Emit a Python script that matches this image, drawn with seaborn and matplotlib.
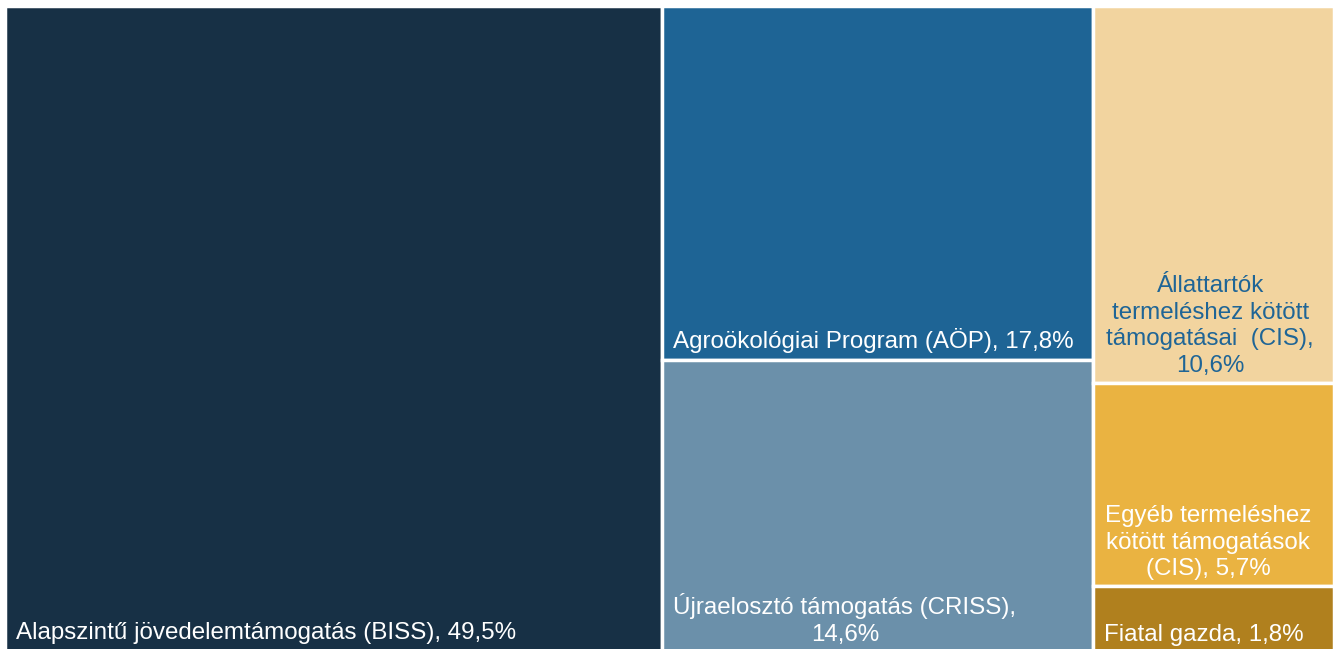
import matplotlib
matplotlib.use("Agg")
import matplotlib.pyplot as plt
import seaborn as sns
import numpy as np

# Data
labels = [
    "Alapszintű jövedelemtámogatás (BISS), 49,5%",
    "Agroökológiai Program (AÖP), 17,8%",
    "Újraelosztó támogatás (CRISS),\n14,6%",
    "Állattartók\ntermeléshez kötött\ntámogatásai  (CIS),\n10,6%",
    "Egyéb termeléshez\nkötött támogatások\n(CIS), 5,7%",
    "Fiatal gazda, 1,8%",
]
values = [49.5, 17.8, 14.6, 10.6, 5.7, 1.8]
groups = [0, 1, 1, 2, 2, 2]
colors = ["#173045", "#1E6495", "#6B90AA", "#F2D49F", "#EAB341", "#B0801E"]
text_colors = ["white", "white", "white", "#1F6596", "white", "white"]

sns.set_theme(style="white")
plt.rcParams["font.family"] = ["Liberation Sans", "DejaVu Sans"]

fig = plt.figure(figsize=(13.33, 6.49), dpi=100)
W, H = 1333, 649
ax = fig.add_axes([4.5 / W, -1.5 / H, 1329.0 / W, 645.0 / H])

# slice-and-dice layout: columns by group, stacked top-down within column
total = sum(values)
rects = []
x0 = 0.0
for g in sorted(set(groups)):
    idx = [i for i in range(len(values)) if groups[i] == g]
    gsum = sum(values[i] for i in idx)
    w = gsum / total
    top = 1.0
    for i in idx:
        h = values[i] / gsum
        rects.append((i, x0, top - h, w, h))
        top -= h
    x0 += w

for i, x, y, w, h in rects:
    ax.bar(x, h, width=w, bottom=y, align="edge", color=colors[i],
           edgecolor="white", linewidth=2.5)

ax.set_xlim(0, 1)
ax.set_ylim(0, 1)
ax.axis("off")

fs = 17.4
ls = 1.28
r = {i: (x, y, w, h) for i, x, y, w, h in rects}
# BISS: bottom-left
x, y, w, h = r[0]
ax.annotate(labels[0], xy=(x, y), xytext=(11, 6), textcoords="offset pixels",
            ha="left", va="bottom", color=text_colors[0], fontsize=fs)
# AÖP: bottom-left
x, y, w, h = r[1]
ax.annotate(labels[1], xy=(x, y), xytext=(11, 7), textcoords="offset pixels",
            ha="left", va="bottom", color=text_colors[1], fontsize=fs)
# CRISS: bottom-left, centered lines
x, y, w, h = r[2]
ax.annotate(labels[2], xy=(x, y), xytext=(11, 5), textcoords="offset pixels",
            ha="left", va="bottom", multialignment="center",
            color=text_colors[2], fontsize=fs, linespacing=ls)
# CIS: centered horizontally, near bottom
x, y, w, h = r[3]
ax.annotate(labels[3], xy=(x + w / 2, y), xytext=(-3, 6), textcoords="offset pixels",
            ha="center", va="bottom", multialignment="center",
            color=text_colors[3], fontsize=fs, linespacing=ls)
# Egyéb
x, y, w, h = r[4]
ax.annotate(labels[4], xy=(x + w / 2, y), xytext=(-5, 6), textcoords="offset pixels",
            ha="center", va="bottom", multialignment="center",
            color=text_colors[4], fontsize=fs, linespacing=ls)
# Fiatal
x, y, w, h = r[5]
ax.annotate(labels[5], xy=(x, y), xytext=(11, 5), textcoords="offset pixels",
            ha="left", va="bottom", color=text_colors[5], fontsize=fs)

fig.savefig("out.png", dpi=100, facecolor="white")
